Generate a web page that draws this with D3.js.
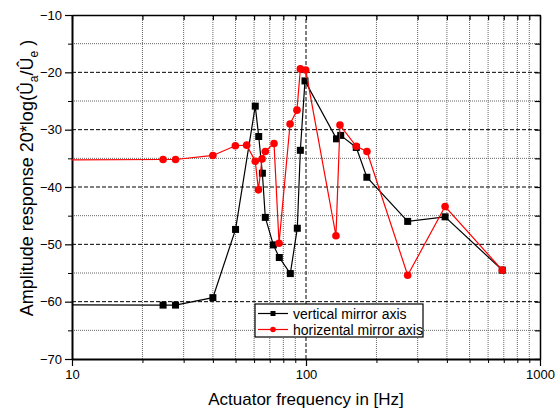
<!DOCTYPE html>
<html>
<head>
<meta charset="utf-8">
<script src="https://cdn.jsdelivr.net/npm/d3@7"></script>
<style>
  body { margin: 0; background: #fff; }
  text { font-family: "Liberation Sans", Arial, sans-serif; }
</style>
</head>
<body>
<div id="chart"></div>
<script>
// vertical mirror axis (black squares); first entry lies left of the axis and is clipped
const vertFreq = [5, 24.5, 27.7, 40, 50, 60.7, 62.8, 65.1, 67, 72.5, 76.9, 85.7, 91.8, 94.6, 99, 135, 140.7, 164, 182, 272, 393, 690];
const vertAmp  = [-60.5, -60.6, -60.6, -59.3, -47.4, -25.9, -31.2, -37.6, -45.3, -50.1, -52.3, -55.1, -47.2, -33.6, -21.5, -31.6, -31.0, -33.1, -38.3, -46.0, -45.2, -54.5];

// horizental mirror axis (red circles)
const horFreq = [5, 24.5, 27.7, 40, 49.9, 55.8, 60.7, 62.6, 64.9, 67, 73, 76.7, 85.5, 91.5, 94.6, 99.7, 134.3, 139.7, 164, 182.2, 272, 393, 690];
const horAmp  = [-35.3, -35.2, -35.2, -34.5, -32.8, -32.7, -35.5, -40.5, -35.1, -33.8, -32.4, -49.8, -29.0, -26.6, -19.4, -19.6, -48.5, -29.2, -32.9, -33.8, -55.4, -43.4, -54.5];

const seriesNames = ["vertical mirror axis", "horizental mirror axis"];
const xMajor = [10, 100, 1000];
const xMinor = [20, 30, 40, 50, 60, 70, 80, 90, 200, 300, 400, 500, 600, 700, 800, 900];
const yMajor = [-70, -60, -50, -40, -30, -20, -10];
const yMinor = [-65, -55, -45, -35, -25, -15];

const width = 555, height = 412;
const margin = { top: 15, right: 15, bottom: 53, left: 72 };

const svg = d3.select("#chart").append("svg")
  .attr("width", width)
  .attr("height", height);

const x = d3.scaleLog()
  .domain([10, 1000])
  .range([margin.left, width - margin.right]);

const y = d3.scaleLinear()
  .domain([-70, -10])
  .range([height - margin.bottom, margin.top]);

svg.append("clipPath").attr("id", "plot-clip")
  .append("rect")
  .attr("x", margin.left)
  .attr("y", margin.top)
  .attr("width", x.range()[1] - x.range()[0])
  .attr("height", y.range()[0] - y.range()[1]);

// grid
const grid = svg.append("g");
grid.selectAll("line.hminor")
  .data(yMinor)
  .join("line")
  .attr("x1", x.range()[0]).attr("x2", x.range()[1])
  .attr("y1", d => y(d)).attr("y2", d => y(d))
  .attr("stroke", "#666").attr("stroke-width", 1)
  .attr("stroke-dasharray", "1,1");

grid.selectAll("line.vminor")
  .data(xMinor)
  .join("line")
  .attr("x1", d => x(d)).attr("x2", d => x(d))
  .attr("y1", y.range()[0]).attr("y2", y.range()[1])
  .attr("stroke", "#666").attr("stroke-width", 1)
  .attr("stroke-dasharray", "1,1");

grid.selectAll("line.hmajor")
  .data(yMajor.filter(d => d > -70 && d < -10))
  .join("line")
  .attr("x1", x.range()[0]).attr("x2", x.range()[1])
  .attr("y1", d => y(d)).attr("y2", d => y(d))
  .attr("stroke", "#000").attr("stroke-width", 1)
  .attr("stroke-dasharray", "4,2");

grid.selectAll("line.vmajor")
  .data(xMajor.filter(d => d > 10 && d < 1000))
  .join("line")
  .attr("x1", d => x(d)).attr("x2", d => x(d))
  .attr("y1", y.range()[0]).attr("y2", y.range()[1])
  .attr("stroke", "#000").attr("stroke-width", 1)
  .attr("stroke-dasharray", "4,2");

// axes
const fmt = d => d3.format("d")(d);

function styleAxis(g, w) {
  g.select(".domain").attr("stroke-width", w);
  g.selectAll(".tick line").attr("stroke-width", 1.2);
  g.selectAll("text")
    .style("font-family", "'Liberation Sans', Arial, sans-serif")
    .style("font-size", "13px")
    .attr("fill", "#000");
}

const axBottom = svg.append("g")
  .attr("transform", `translate(0,${y.range()[0]})`)
  .call(d3.axisBottom(x).tickValues(xMajor).tickFormat(fmt).tickSizeInner(7).tickSizeOuter(0).tickPadding(4));
styleAxis(axBottom, 2);
svg.append("g")
  .attr("transform", `translate(0,${y.range()[0]})`)
  .call(d3.axisBottom(x).tickValues(xMinor).tickFormat("").tickSizeInner(4).tickSizeOuter(0))
  .call(g => g.select(".domain").remove());

const axLeft = svg.append("g")
  .attr("transform", `translate(${x.range()[0]},0)`)
  .call(d3.axisLeft(y).tickValues(yMajor).tickFormat(fmt).tickSizeInner(7).tickSizeOuter(0).tickPadding(3));
styleAxis(axLeft, 2);
svg.append("g")
  .attr("transform", `translate(${x.range()[0]},0)`)
  .call(d3.axisLeft(y).tickValues(yMinor).tickFormat("").tickSizeInner(4).tickSizeOuter(0))
  .call(g => g.select(".domain").remove());

const axTop = svg.append("g")
  .attr("transform", `translate(0,${y.range()[1]})`)
  .call(d3.axisTop(x).tickValues(xMajor.concat(xMinor)).tickFormat("").tickSizeInner(-5).tickSizeOuter(0));
styleAxis(axTop, 1.5);

const axRight = svg.append("g")
  .attr("transform", `translate(${x.range()[1]},0)`)
  .call(d3.axisRight(y).tickValues(yMajor.concat(yMinor)).tickFormat("").tickSizeInner(-5).tickSizeOuter(0));
styleAxis(axRight, 1.5);

// data
const series = [
  { name: seriesNames[0], freq: vertFreq, amp: vertAmp, color: "#000", shape: "square" },
  { name: seriesNames[1], freq: horFreq, amp: horAmp, color: "#ff0000", shape: "circle" }
];

const line = d3.line()
  .x(d => x(d[0]))
  .y(d => y(d[1]));

const plot = svg.append("g").attr("clip-path", "url(#plot-clip)");

function drawMarker(g, s, cx, cy) {
  if (s.shape === "square") {
    g.append("rect")
      .attr("x", cx - 3.5).attr("y", cy - 3.5)
      .attr("width", 7).attr("height", 7)
      .attr("fill", s.color);
  } else {
    g.append("circle")
      .attr("cx", cx).attr("cy", cy).attr("r", 3.8)
      .attr("fill", s.color);
  }
}

series.forEach(s => {
  const pts = s.freq.map((f, i) => [f, s.amp[i]]);
  plot.append("path")
    .datum(pts)
    .attr("d", line)
    .attr("fill", "none")
    .attr("stroke", s.color)
    .attr("stroke-width", 1.2);
  const mg = plot.append("g");
  pts.forEach(p => drawMarker(mg, s, x(p[0]), y(p[1])));
});

// legend
const lg = svg.append("g").attr("transform", "translate(255,304)");
lg.append("rect")
  .attr("width", 168).attr("height", 33)
  .attr("fill", "#fff").attr("stroke", "#000").attr("stroke-width", 1.2);
series.forEach((s, i) => {
  const ly = 9.5 + i * 16;
  lg.append("line")
    .attr("x1", 3).attr("x2", 33).attr("y1", ly).attr("y2", ly)
    .attr("stroke", s.color).attr("stroke-width", 1.2);
  if (s.shape === "square") {
    lg.append("rect").attr("x", 15.5).attr("y", ly - 2.5).attr("width", 5).attr("height", 5).attr("fill", s.color);
  } else {
    lg.append("circle").attr("cx", 18).attr("cy", ly).attr("r", 2.8).attr("fill", s.color);
  }
  lg.append("text")
    .attr("x", 38).attr("y", ly + 5)
    .style("font-size", "14px")
    .text(s.name);
});

// axis titles
svg.append("text")
  .attr("x", (x.range()[0] + x.range()[1]) / 2)
  .attr("y", 405)
  .attr("text-anchor", "middle")
  .style("font-size", "17px")
  .text("Actuator frequency in [Hz]");

const yt = svg.append("text")
  .attr("transform", `translate(33,${(y.range()[0] + y.range()[1]) / 2 - 9}) rotate(-90)`)
  .attr("text-anchor", "middle")
  .style("font-size", "18px");
yt.append("tspan").text("Amplitude response 20*log(Û");
yt.append("tspan").attr("dy", 5).style("font-size", "12px").text("a");
yt.append("tspan").attr("dy", -5).text("/Û");
yt.append("tspan").attr("dy", 5).style("font-size", "12px").text("e");
yt.append("tspan").attr("dy", -5).text(" )");
</script>
</body>
</html>
